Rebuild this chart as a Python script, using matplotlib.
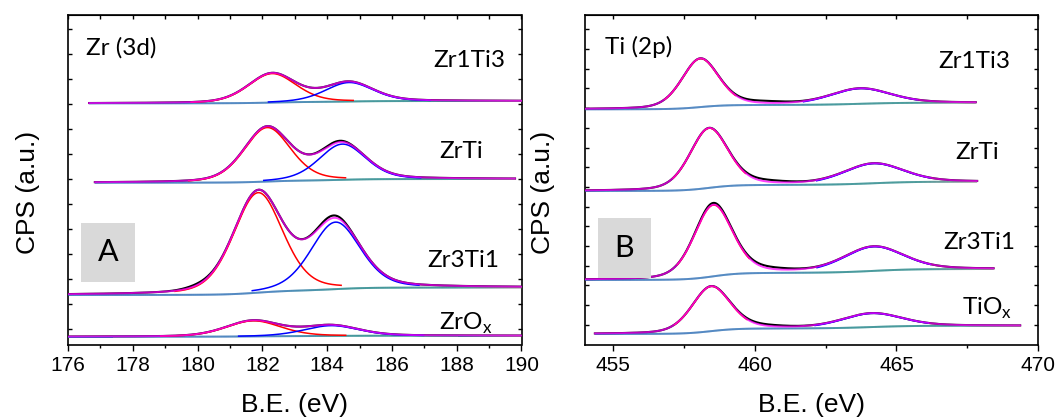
import numpy as np
import matplotlib
matplotlib.use('Agg')
import matplotlib.pyplot as plt
from matplotlib.collections import LineCollection
from matplotlib.colors import LinearSegmentedColormap
from matplotlib.patches import Rectangle
from matplotlib.ticker import MultipleLocator

plt.rcParams['font.family'] = ['Lato', 'DejaVu Sans']
plt.rcParams['mathtext.fontset'] = 'custom'

# ---- panel A: Zr 3d, fitted doublets (offset intensities, a.u.) ----
ZR_NAMES = ['Zr1Ti3', 'ZrTi', 'Zr3Ti1', 'ZrO$_\\mathregular{x}$']
ZR_XSTART = [176.65, 176.83, 176.0, 176.0]
ZR_XEND = [190.0, 189.8, 190.0, 190.0]
ZR_BG_LEFT = [241.2, 161.8, 49.5, 7.8]
ZR_BG_RIGHT = [243.5, 165.5, 57.0, 8.8]
ZR_CENTERS = [[182.3, 184.68], [182.15, 184.47], [181.87, 184.26], [181.72, 184.13]]
ZR_HEIGHTS = [[29.0, 19.0], [54.0, 35.7], [100.0, 67.0], [15.6, 10.3]]
ZR_FWHM = [[1.75, 1.75], [1.7, 1.7], [1.8, 1.8], [2.0, 2.0]]
# where the measured data sits off the envelope: (centre, height, fwhm)
ZR_RESID = [[], [(184.2, 1.5, 0.8)], [(184.1, 2.5, 0.9), (180.0, 1.5, 1.0)], []]

# ---- panel B: Ti 2p ----
TI_NAMES = ['Zr1Ti3', 'ZrTi', 'Zr3Ti1', 'TiO$_\\mathregular{x}$']
TI_XSTART = [454.0, 454.0, 454.0, 454.35]
TI_XEND = [467.8, 467.85, 468.43, 469.37]
TI_BG_LEFT = [235.2, 153.5, 64.5, 10.5]
TI_BG_RIGHT = [241.8, 162.8, 75.5, 18.8]
TI_CENTERS = [[458.07, 463.72], [458.38, 464.19], [458.53, 464.19], [458.45, 464.13]]
TI_HEIGHTS = [[48.5, 15.3], [59.7, 19.7], [71.3, 24.2], [44.8, 13.7]]
TI_FWHM = [[1.55, 2.5], [1.6, 2.5], [1.6, 2.5], [1.6, 2.5]]
TI_RESID = [[(460.3, 2.0, 1.8)], [(460.4, 2.0, 1.8)],
            [(458.5, 1.7, 1.2), (460.5, 2.0, 1.8)], [(460.3, 1.5, 1.8)]]

W, H = 1057, 419
BG_CMAP = LinearSegmentedColormap.from_list(
    'bg', [(0, '#1d5fb0'), (0.45, '#2068b0'), (0.6, '#0d7a80'), (0.85, '#147c7c'), (1, '#7a7a7a')])


def pv(x, c, h, w, frac=0.3):
    g = np.exp(-4 * np.log(2) * ((x - c) / w) ** 2)
    l = 1 / (1 + 4 * ((x - c) / w) ** 2)
    return h * ((1 - frac) * g + frac * l)


def plot_spectrum(ax, x0, x1, bg_l, bg_r, centers, heights, fwhm, resid, cut):
    x = np.linspace(x0, x1, 700)
    peaks = [pv(x, c, h, w) for c, h, w in zip(centers, heights, fwhm)]
    total = sum(peaks)
    cum = np.cumsum(total)
    bg = bg_l + (bg_r - bg_l) * cum / cum[-1]
    env = bg + total
    data = env.copy()
    for c, h, w in resid:
        data += pv(x, c, h, w, 0.0)
    ax.plot(x, data, color='k', lw=1.5, zorder=2)
    pts = np.column_stack([x, bg]).reshape(-1, 1, 2)
    segs = np.concatenate([pts[:-1], pts[1:]], axis=1)
    lc = LineCollection(segs, cmap=BG_CMAP, lw=1.4, zorder=3)
    lc.set_array(np.linspace(0, 1, len(segs)))
    ax.add_collection(lc)
    for p, col in zip(peaks, ('#ff0000', '#0000ff')):
        comp = np.where(p > cut * p.max(), bg + p, np.nan)
        ax.plot(x, comp, color=col, lw=1.1, zorder=4)
    ax.plot(x, env, color='#ff00ff', lw=1.4, alpha=0.75, zorder=5)


def px_text(fig, x, y, s, **kw):
    fig.text(x / W, 1 - y / H, s, **kw)


def setup_axes(ax, xlim, major, minor, ystep, yfirst):
    ax.set_xlim(*xlim)
    ax.set_ylim(0, 329.5)
    ax.set_xticks(np.arange(xlim[0] + (major - xlim[0] % major) % major, xlim[1] + 0.01, major))
    ax.xaxis.set_minor_locator(MultipleLocator(minor))
    ax.tick_params(axis='x', which='major', direction='out', length=4.5, width=1,
                   labelsize=15, labelfontfamily='Liberation Sans', top=False)
    ax.tick_params(axis='x', which='minor', direction='out', length=2.5, width=1, top=False)
    ax.set_yticks(np.arange(yfirst, 329, ystep))
    ax.set_yticklabels([])
    ax.tick_params(axis='y', direction='in', left=True, right=True, length=3, width=1)
    sec = ax.secondary_xaxis('top')
    sec.set_xticks(np.arange(xlim[0] + (minor - xlim[0] % minor) % minor, xlim[1] + 0.01, minor))
    sec.tick_params(direction='in', length=3, width=1, labeltop=False)
    for sp in ax.spines.values():
        sp.set_linewidth(1.2)


def main():
    fig = plt.figure(figsize=(W / 100, H / 100), dpi=100)
    axA = fig.add_axes([68 / W, 1 - 344.5 / H, (521.5 - 68) / W, 329.5 / H])
    axB = fig.add_axes([585 / W, 1 - 344.5 / H, (1038 - 585) / W, 329.5 / H])

    for i in range(4):
        plot_spectrum(axA, ZR_XSTART[i], ZR_XEND[i], ZR_BG_LEFT[i], ZR_BG_RIGHT[i],
                      ZR_CENTERS[i], ZR_HEIGHTS[i], ZR_FWHM[i], ZR_RESID[i], 0.035)
        plot_spectrum(axB, TI_XSTART[i], TI_XEND[i], TI_BG_LEFT[i], TI_BG_RIGHT[i],
                      TI_CENTERS[i], TI_HEIGHTS[i], TI_FWHM[i], TI_RESID[i], 0.2)

    setup_axes(axA, (176, 190), 2, 1, 25, 15.5)
    setup_axes(axB, (454, 470), 5, 2.5, 19.7, 19.7)

    axA.add_patch(Rectangle((0.028, 0.19), 0.12, 0.179, transform=axA.transAxes,
                            facecolor='#d9d9d9', edgecolor='none', zorder=6))
    axA.text(0.088, 0.28, 'A', transform=axA.transAxes, ha='center', va='center',
             fontsize=22, zorder=7)
    axB.add_patch(Rectangle((0.028, 0.201), 0.118, 0.182, transform=axB.transAxes,
                            facecolor='#d9d9d9', edgecolor='none', zorder=6))
    axB.text(0.087, 0.292, 'B', transform=axB.transAxes, ha='center', va='center',
             fontsize=22, zorder=7)

    tkw = dict(fontsize=17.5, ha='left', va='baseline')
    px_text(fig, 86, 54.3, 'Zr (3d)', **tkw)
    for name, x, y in zip(ZR_NAMES, [433, 439, 427, 439], [66.7, 158.3, 267.3, 330]):
        px_text(fig, x, y, name, **tkw)
    px_text(fig, 605, 54.3, 'Ti (2p)', **tkw)
    for name, x, y in zip(TI_NAMES, [938, 955, 943, 962], [68.3, 159.3, 249, 315]):
        px_text(fig, x, y, name, **tkw)

    lkw = dict(fontsize=19, ha='center', va='center', family='Liberation Sans')
    px_text(fig, 294.75, 405, 'B.E. (eV)', **lkw)
    px_text(fig, 811.5, 405, 'B.E. (eV)', **lkw)
    px_text(fig, 28, 192, 'CPS (a.u.)', rotation=90, **lkw)
    px_text(fig, 543, 192, 'CPS (a.u.)', rotation=90, **lkw)

    fig.savefig('out.png', dpi=100)


if __name__ == '__main__':
    main()
